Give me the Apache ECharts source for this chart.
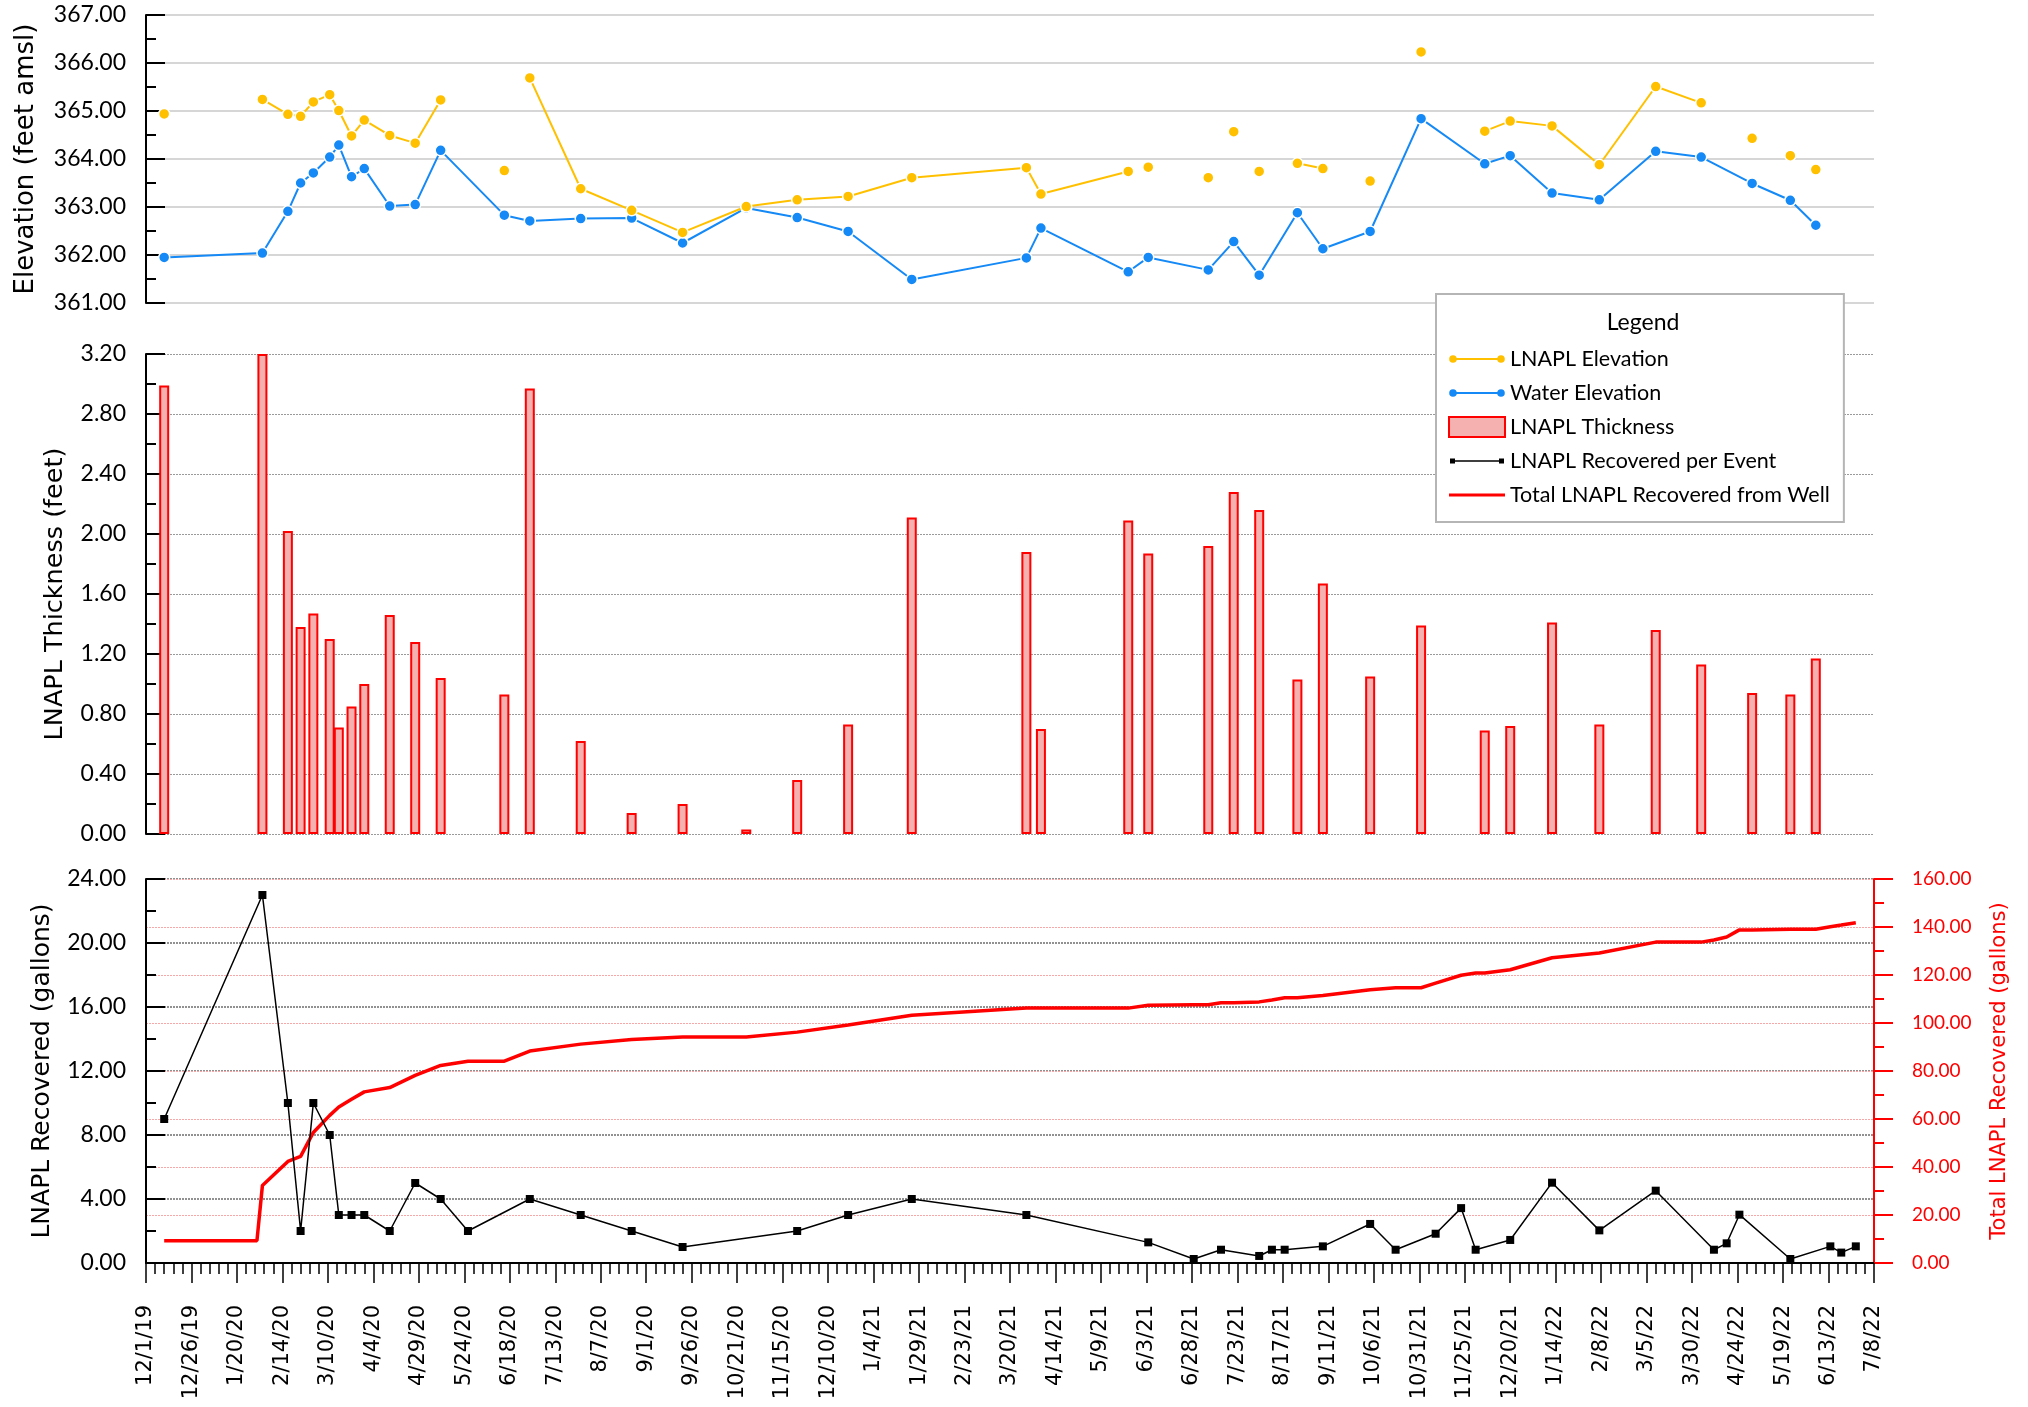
<!DOCTYPE html>
<html>
<head>
<meta charset="utf-8">
<title>LNAPL Monitoring</title>
<script src="https://cdn.jsdelivr.net/npm/echarts@6/dist/echarts.min.js"></script>
<style>
  html, body { margin: 0; padding: 0; background: #fff; }
  #chart { width: 2028px; height: 1407px; }
</style>
</head>
<body>
<div id="chart"></div>
<script>
// gauging events (elevations + thickness)
const gaugeDates = [
  '2019-12-11', '2020-02-03', '2020-02-17', '2020-02-24', '2020-03-02', '2020-03-11',
  '2020-03-16', '2020-03-23', '2020-03-30', '2020-04-13', '2020-04-27', '2020-05-11',
  '2020-06-15', '2020-06-29', '2020-07-27', '2020-08-24', '2020-09-21', '2020-10-26',
  '2020-11-23', '2020-12-21', '2021-01-25', '2021-03-29', '2021-04-06', '2021-05-24',
  '2021-06-04', '2021-07-07', '2021-07-21', '2021-08-04', '2021-08-25', '2021-09-08',
  '2021-10-04', '2021-11-01', '2021-12-06', '2021-12-20', '2022-01-12', '2022-02-07',
  '2022-03-10', '2022-04-04', '2022-05-02', '2022-05-23', '2022-06-06'
];
const lnaplElev = [
  364.94, 365.24, 364.93, 364.89, 365.19, 365.34, 365.01, 364.48, 364.81, 364.49, 364.33,
  365.23, 363.76, 365.69, 363.38, 362.93, 362.47, 363.01, 363.15, 363.22, 363.61, 363.82,
  363.27, 363.74, 363.83, 363.61, 364.57, 363.74, 363.91, 363.80, 363.54, 366.23, 364.58,
  364.79, 364.69, 363.88, 365.51, 365.17, 364.43, 364.07, 363.78
];
// the LNAPL elevation line is not drawn across these gaps (index of the point before the gap)
const lnaplBreakAfter = [0, 11, 12, 23, 24, 25, 26, 27, 29, 30, 31, 37, 38, 39];
const waterElev = [
  361.95, 362.04, 362.91, 363.50, 363.71, 364.04, 364.29, 363.63, 363.80, 363.02, 363.05,
  364.18, 362.83, 362.71, 362.76, 362.77, 362.25, 362.98, 362.78, 362.49, 361.49, 361.94,
  362.56, 361.65, 361.95, 361.69, 362.28, 361.58, 362.88, 362.13, 362.49, 364.84, 363.90,
  364.07, 363.29, 363.15, 364.16, 364.04, 363.49, 363.14, 362.62
];
const thickness = [
  2.99, 3.20, 2.02, 1.38, 1.47, 1.30, 0.71, 0.85, 1.00, 1.46, 1.28, 1.04, 0.93, 2.97,
  0.62, 0.14, 0.20, 0.03, 0.36, 0.73, 2.11, 1.88, 0.70, 2.09, 1.87, 1.92, 2.28, 2.16,
  1.03, 1.67, 1.05, 1.39, 0.69, 0.72, 1.41, 0.73, 1.36, 1.13, 0.94, 0.93, 1.17
];

// recovery events
const recoveryDates = [
  '2019-12-11', '2020-02-03', '2020-02-17', '2020-02-24', '2020-03-02', '2020-03-11',
  '2020-03-16', '2020-03-23', '2020-03-30', '2020-04-13', '2020-04-27', '2020-05-11',
  '2020-05-26', '2020-06-29', '2020-07-27', '2020-08-24', '2020-09-21', '2020-11-23',
  '2020-12-21', '2021-01-25', '2021-03-29', '2021-06-04', '2021-06-29', '2021-07-14',
  '2021-08-04', '2021-08-11', '2021-08-18', '2021-09-08', '2021-10-04', '2021-10-18',
  '2021-11-09', '2021-11-23', '2021-12-01', '2021-12-20', '2022-01-12', '2022-02-07',
  '2022-03-10', '2022-04-11', '2022-04-18', '2022-04-25', '2022-05-23', '2022-06-14',
  '2022-06-20', '2022-06-28'
];
const recoveredGal = [
  9, 23, 10, 2, 10, 8, 3, 3, 3, 2, 5, 4, 2, 4, 3, 2, 1, 2, 3, 4, 3, 1.29, 0.25, 0.83,
  0.44, 0.83, 0.83, 1.04, 2.44, 0.83, 1.83, 3.43, 0.83, 1.44, 5.02, 2.04, 4.52, 0.83,
  1.23, 3.02, 0.25, 1.04, 0.65, 1.04
];

// running total from the well
const totalDates = [
  '2019-12-11', '2020-01-31', '2020-02-03', '2020-02-17', '2020-02-24', '2020-03-02',
  '2020-03-11', '2020-03-16', '2020-03-23', '2020-03-30', '2020-04-13', '2020-04-27',
  '2020-05-11', '2020-05-26', '2020-06-15', '2020-06-29', '2020-07-27', '2020-08-24',
  '2020-09-21', '2020-10-26', '2020-11-23', '2020-12-21', '2021-01-25', '2021-03-29',
  '2021-04-06', '2021-05-24', '2021-06-04', '2021-06-29', '2021-07-07', '2021-07-14',
  '2021-07-21', '2021-08-04', '2021-08-11', '2021-08-18', '2021-08-25', '2021-09-08',
  '2021-10-04', '2021-10-18', '2021-11-01', '2021-11-09', '2021-11-23', '2021-12-01',
  '2021-12-06', '2021-12-20', '2022-01-12', '2022-02-07', '2022-03-10', '2022-04-04',
  '2022-04-11', '2022-04-18', '2022-04-25', '2022-05-02', '2022-05-23', '2022-06-06',
  '2022-06-14', '2022-06-20', '2022-06-28'
];
const totalGal = [
  9.3, 9.3, 32.3, 42.3, 44.4, 54.4, 61.5, 65.0, 68.2, 71.3, 73.1, 78.2, 82.3, 84.1, 84.1,
  88.3, 91.2, 93.1, 94.2, 94.2, 96.2, 99.2, 103.2, 106.2, 106.2, 106.2, 107.4, 107.6,
  107.6, 108.4, 108.4, 108.8, 109.6, 110.5, 110.5, 111.5, 113.9, 114.7, 114.7, 116.6,
  119.9, 120.8, 120.8, 122.2, 127.2, 129.2, 133.7, 133.7, 134.6, 135.8, 138.8, 138.8,
  139.1, 139.1, 140.1, 140.8, 141.8
];

// x axis runs in days from 12/1/19, ticks every 25 days
const AXIS_START = Date.UTC(2019, 11, 1);
const AXIS_DAYS = 950;
const TICK_DAYS = 25;
const DAY_MS = 86400000;

function toDay(s) {
  const [y, m, d] = s.split('-').map(Number);
  return Math.round((Date.UTC(y, m - 1, d) - AXIS_START) / DAY_MS);
}
function dayLabel(v) {
  const dt = new Date(AXIS_START + v * DAY_MS);
  return (dt.getUTCMonth() + 1) + '/' + dt.getUTCDate() + '/' + (dt.getUTCFullYear() % 100);
}

const gaugeDays = gaugeDates.map(toDay);
const lnaplData = [];
gaugeDays.forEach((d, i) => {
  lnaplData.push([d, lnaplElev[i]]);
  if (lnaplBreakAfter.includes(i) && i < gaugeDays.length - 1) {
    lnaplData.push([(d + gaugeDays[i + 1]) / 2, '-']);
  }
});
const waterData = gaugeDays.map((d, i) => [d, waterElev[i]]);
const thickData = gaugeDays.map((d, i) => [d, thickness[i]]);
const recoveredData = recoveryDates.map((s, i) => [toDay(s), recoveredGal[i]]);
const totalData = totalDates.map((s, i) => [toDay(s), totalGal[i]]);

const TICK_FONT = 'Lato, "Liberation Sans", sans-serif';
const TITLE_FONT = '"DejaVu Sans", Verdana, sans-serif';

// legend icon paths sized to the 56x20 legend cell
const CORNERS = 'M0,0h0.01v0.01h-0.01z M55.99,19.99h0.01v0.01h-0.01z ';
const ICON_DOT_LINE = 'path://' + CORNERS +
  'M6,9h44v2h-44z M0.2,10a3.8,3.8 0 1,1 7.6,0a3.8,3.8 0 1,1 -7.6,0z M48.2,10a3.8,3.8 0 1,1 7.6,0a3.8,3.8 0 1,1 -7.6,0z';
const ICON_SQ_LINE = 'path://' + CORNERS +
  'M1,7.5h5v5h-5z M50,7.5h5v5h-5z M6,9.2h44v1.6h-44z';
const ICON_THICK_LINE = 'path://' + CORNERS + 'M0,8.5h56v3h-56z';

function hiddenX(gridIndex) {
  return {
    type: 'value', gridIndex, min: 0, max: AXIS_DAYS, interval: TICK_DAYS,
    show: false
  };
}

function leftY(gridIndex, min, max, interval, name, nameGap, nameSize, gridLine) {
  return {
    type: 'value', gridIndex, position: 'left', min, max, interval,
    axisLine: { show: true, lineStyle: { color: '#000', width: 2 } },
    axisTick: { show: true, inside: true, length: 19, lineStyle: { color: '#000', width: 2 } },
    minorTick: { show: true, splitNumber: 2, length: 10, lineStyle: { color: '#000', width: 2 } },
    axisLabel: {
      formatter: v => v.toFixed(2), margin: 20, color: '#000',
      fontFamily: TICK_FONT, fontSize: 23
    },
    splitLine: { show: true, lineStyle: gridLine },
    name, nameLocation: 'middle', nameRotate: 90, nameGap,
    nameTextStyle: { fontFamily: TITLE_FONT, fontSize: nameSize, color: '#000' }
  };
}

const chart = echarts.init(document.getElementById('chart'));

const option = {
  backgroundColor: '#fff',
  animation: false,
  grid: [
    { left: 146, right: 154, top: 15, height: 288 },
    { left: 146, right: 154, top: 354, height: 480 },
    { left: 146, right: 154, top: 879, height: 384 }
  ],
  xAxis: [
    hiddenX(0),
    hiddenX(1),
    {
      type: 'value', gridIndex: 2, min: 0, max: AXIS_DAYS, interval: TICK_DAYS,
      axisLine: { show: true, lineStyle: { color: '#000', width: 2 } },
      axisTick: { show: true, length: 20, lineStyle: { color: '#000', width: 1.5 } },
      minorTick: { show: true, splitNumber: 5, length: 11, lineStyle: { color: '#000', width: 1.5 } },
      axisLabel: {
        formatter: dayLabel, rotate: 90, margin: 42, color: '#000',
        fontFamily: TITLE_FONT, fontSize: 21
      },
      splitLine: { show: false }
    }
  ],
  yAxis: [
    leftY(0, 361, 367, 1, 'Elevation (feet amsl)', 107, 26,
      { color: '#c8c8c8', width: 1.5, type: 'solid' }),
    leftY(1, 0, 3.2, 0.4, 'LNAPL Thickness (feet)', 78, 25.5,
      { color: '#9a9a9a', width: 1, type: [2, 1] }),
    leftY(2, 0, 24, 4, 'LNAPL Recovered (gallons)', 91, 25,
      { color: '#6e6e6e', width: 1.5, type: [2, 1] }),
    {
      type: 'value', gridIndex: 2, position: 'right', min: 0, max: 160, interval: 20,
      axisLine: { show: true, lineStyle: { color: '#ff0000', width: 2 } },
      axisTick: { show: true, length: 19, lineStyle: { color: '#ff0000', width: 2 } },
      minorTick: { show: true, splitNumber: 2, length: 10, lineStyle: { color: '#ff0000', width: 2 } },
      axisLabel: {
        formatter: v => v.toFixed(2), margin: 38, color: '#ff0000',
        fontFamily: TICK_FONT, fontSize: 19
      },
      splitLine: { show: true, lineStyle: { color: '#f6a8a8', width: 1, type: [2, 1] } },
      name: 'Total LNAPL Recovered (gallons)', nameLocation: 'middle', nameRotate: 90, nameGap: 115,
      nameTextStyle: { fontFamily: TITLE_FONT, fontSize: 21, color: '#ff0000' }
    }
  ],
  title: {
    text: 'Legend', left: 1638, top: 306, textAlign: 'center',
    textStyle: { fontFamily: TICK_FONT, fontSize: 23, fontWeight: 'normal', color: '#000' }
  },
  legend: {
    orient: 'vertical', left: 1436, top: 294,
    padding: [54, 14, 16, 12],
    itemWidth: 56, itemHeight: 20, itemGap: 12,
    backgroundColor: '#fff', borderColor: '#b5b5b5', borderWidth: 2,
    selectedMode: false,
    textStyle: { fontFamily: TICK_FONT, fontSize: 21.5, color: '#000' },
    data: [
      { name: 'LNAPL Elevation', icon: ICON_DOT_LINE, itemStyle: { borderWidth: 0 } },
      { name: 'Water Elevation', icon: ICON_DOT_LINE, itemStyle: { borderWidth: 0 } },
      { name: 'LNAPL Thickness', icon: 'rect' },
      { name: 'LNAPL Recovered per Event', icon: ICON_SQ_LINE, itemStyle: { borderWidth: 0 } },
      { name: 'Total LNAPL Recovered from Well', icon: ICON_THICK_LINE, itemStyle: { borderWidth: 0 } }
    ]
  },
  series: [
    {
      name: 'Water Elevation', type: 'line', xAxisIndex: 0, yAxisIndex: 0,
      data: waterData, color: '#1589f5',
      lineStyle: { width: 2, color: '#1589f5' },
      symbol: 'circle', symbolSize: 11, showAllSymbol: true,
      itemStyle: { color: '#1589f5', borderColor: '#fff', borderWidth: 1.5 },
      z: 3
    },
    {
      name: 'LNAPL Elevation', type: 'line', xAxisIndex: 0, yAxisIndex: 0,
      data: lnaplData, color: '#ffc000', connectNulls: false,
      lineStyle: { width: 2, color: '#ffc000' },
      symbol: 'circle', symbolSize: 11, showAllSymbol: true,
      itemStyle: { color: '#ffc000', borderColor: '#fff', borderWidth: 1.5 },
      z: 4
    },
    {
      name: 'LNAPL Thickness', type: 'bar', xAxisIndex: 1, yAxisIndex: 1,
      data: thickData, barWidth: 10, color: '#f5b0b0',
      itemStyle: { color: '#f5b0b0', borderColor: '#ff0000', borderWidth: 2 }
    },
    {
      name: 'Total LNAPL Recovered from Well', type: 'line', xAxisIndex: 2, yAxisIndex: 3,
      data: totalData, color: '#ff0000',
      lineStyle: { width: 3.5, color: '#ff0000' },
      symbol: 'none', z: 3
    },
    {
      name: 'LNAPL Recovered per Event', type: 'line', xAxisIndex: 2, yAxisIndex: 2,
      data: recoveredData, color: '#000',
      lineStyle: { width: 1.5, color: '#000' },
      symbol: 'rect', symbolSize: 8, showAllSymbol: true,
      itemStyle: { color: '#000', borderWidth: 0 },
      z: 4
    }
  ]
};

chart.setOption(option);
window.addEventListener('resize', () => chart.resize());
</script>
</body>
</html>
